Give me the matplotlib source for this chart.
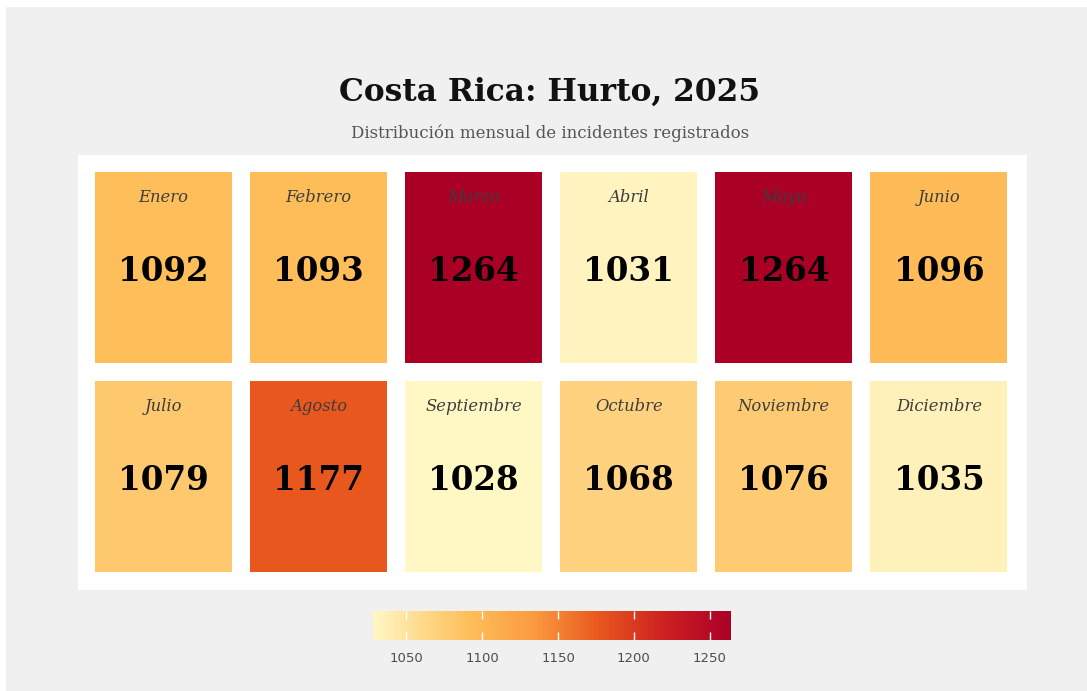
import numpy as np
import matplotlib
matplotlib.use("Agg")
import matplotlib.pyplot as plt
from matplotlib.patches import Rectangle
from matplotlib.colors import LinearSegmentedColormap, Normalize
from matplotlib.cm import ScalarMappable

# data
months = ['Enero', 'Febrero', 'Marzo', 'Abril', 'Mayo', 'Junio',
          'Julio', 'Agosto', 'Septiembre', 'Octubre', 'Noviembre', 'Diciembre']
counts = [1092, 1093, 1264, 1031, 1264, 1096,
          1079, 1177, 1028, 1068, 1076, 1035]
cbar_ticks = [1050, 1100, 1150, 1200, 1250]

TITLE = 'Costa Rica: Hurto, 2025'
SUBTITLE = 'Distribución mensual de incidentes registrados'

# yellow-orange-red ramp, stops
ramp = [(0.0, '#fff7c4'), (0.17, '#fed27e'), (0.27, '#febe5a'),
        (0.45, '#fb9a40'), (0.63, '#e8581e'), (0.82, '#cc1f22'), (1.0, '#aa0026')]
cmap = LinearSegmentedColormap.from_list('hurto', ramp)
norm = Normalize(vmin=min(counts), vmax=max(counts))

SERIF = 'DejaVu Serif'
BG = '#f0f0f0'

W, H = 1087, 691
fig = plt.figure(figsize=(W / 100, H / 100), dpi=100, facecolor='white')
# grey canvas (small white edge top/left like the reference)
fig.patches.append(Rectangle((6 / W, 0), 1, 1 - 7 / H, transform=fig.transFigure,
                             facecolor=BG, edgecolor='none', zorder=-10))

fig.text(0.506, 1 - 92 / H, TITLE, ha='center', va='center',
         family=SERIF, fontweight='bold', fontsize=22.5, color='#111111')
fig.text(0.506, 1 - 133 / H, SUBTITLE, ha='center', va='center',
         family=SERIF, fontsize=12, color='#555555')

# panel with tiles
ax = fig.add_axes([78 / W, 1 - 590 / H, (1027 - 78) / W, (590 - 155) / H])
ax.set_facecolor('white')
ax.set_xlim(-0.552, 5.568)
ax.set_ylim(1.543, -0.538)
for s in ax.spines.values():
    s.set_visible(False)
ax.set_xticks([])
ax.set_yticks([])

tw, th = 0.884, 0.914
for i, (m, v) in enumerate(zip(months, counts)):
    c, r = i % 6, i // 6
    ax.add_patch(Rectangle((c - tw / 2, r - th / 2), tw, th,
                           facecolor=cmap(norm(v)), edgecolor='none'))
    ax.text(c, r - 0.333, m, ha='center', va='center', family=SERIF,
            style='italic', fontsize=11.8, color='#3d3d3d')
    ax.text(c, r + 0.02, str(v), ha='center', va='center', family=SERIF,
            fontweight='bold', fontsize=23.5, color='black')

# colour bar
cax = fig.add_axes([373 / W, 1 - 640 / H, (731 - 373) / W, 29 / H])
sm = ScalarMappable(norm=norm, cmap=cmap)
cb = fig.colorbar(sm, cax=cax, orientation='horizontal', ticks=cbar_ticks)
cb.outline.set_visible(False)
cax.xaxis.set_ticks_position('both')
cax.tick_params(axis='x', direction='in', length=6, width=1, color='white',
                labelcolor='#4d4d4d', labelsize=9.5, pad=9,
                labeltop=False, labelbottom=True)

fig.savefig('out.png', dpi=100, facecolor=fig.get_facecolor())
